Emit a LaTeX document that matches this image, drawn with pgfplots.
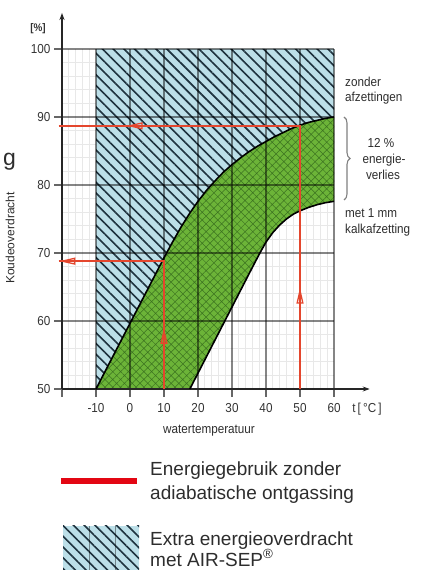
\documentclass[border=0pt]{standalone}
\usepackage{fontspec}
\setmainfont{Liberation Sans}
\newfontfamily\condfont[FakeStretch=0.9]{Liberation Sans}
\usepackage{pgfplots}
\pgfplotsset{compat=1.18}
\usetikzlibrary{patterns.meta,arrows.meta,decorations.pathreplacing}
\definecolor{skyfill}{RGB}{188,223,232}
\definecolor{hatchnavy}{RGB}{30,50,62}
\definecolor{grfill}{RGB}{108,180,56}
\definecolor{grhatch}{RGB}{60,115,32}
\definecolor{redline}{RGB}{228,70,45}
\definecolor{legred}{RGB}{227,6,19}
\definecolor{txt}{RGB}{45,45,45}
\pgfplotsset{common/.style={x=3.4bp, y=6.8bp, at={(62bp,181bp)}, anchor=south west,
  enlarge x limits=false, enlarge y limits=false}}
\newcommand\fs[1]{\fontsize{#1bp}{#1bp}\selectfont}
\begin{document}
\begin{tikzpicture}
\useasboundingbox (0,0) rectangle (424bp,570bp);
\clip (0,0) rectangle (424bp,570bp);
% minor grid (under the fills)
\begin{axis}[common, xmin=-20, xmax=60, ymin=50, ymax=100,
  axis line style={draw=none}, tick style={draw=none},
  xtick={-20,-10,...,60}, ytick={50,60,...,100}, minor x tick num=4, minor y tick num=4,
  xticklabels={}, yticklabels={}, minor grid style={black!9, line width=0.8bp},
  xminorgrids=true, yminorgrids=true]
\end{axis}
% fills
\begin{axis}[common, xmin=-20, xmax=70.5, ymin=50, ymax=105.3, hide axis, clip=false]
\addplot[draw=none, fill=skyfill, postaction={pattern={Lines[angle=-45,distance=7.6bp,line width=1.6bp]}, pattern color=hatchnavy}]
 coordinates {(-10,50) (0,59.65) (10,69.3) (12.5,71.6) (15,73.8) (17.5,75.8) (20,77.6) (22.5,79.2) (25,80.6) (27.5,81.9) (30,83.0) (32.5,84.0) (35,84.9) (37.5,85.7) (40,86.4) (42.5,87.1) (45,87.7) (47.5,88.3) (50,88.8) (52.5,89.2) (55,89.5) (57.5,89.8) (60,90.0) (60,100) (-10,100)} -- cycle;
\addplot[draw=none, fill=grfill, postaction={pattern={Hatch[angle=45,distance=5.5bp,line width=0.5bp]}, pattern color=grhatch}]
 coordinates {(-10,50) (0,59.65) (10,69.3) (12.5,71.6) (15,73.8) (17.5,75.8) (20,77.6) (22.5,79.2) (25,80.6) (27.5,81.9) (30,83.0) (32.5,84.0) (35,84.9) (37.5,85.7) (40,86.4) (42.5,87.1) (45,87.7) (47.5,88.3) (50,88.8) (52.5,89.2) (55,89.5) (57.5,89.8) (60,90.0)
 (60,77.6) (57.5,77.4) (55,77.1) (52.5,76.7) (50,76.2) (48,75.7) (46,75.0) (44,74.1) (42,73.0) (40,71.6) (38.2,70.0) (36,67.9) (17.6,50)} -- cycle;
\end{axis}
% major grid (over the fills)
\begin{axis}[common, xmin=-20, xmax=60, ymin=50, ymax=100,
  axis line style={draw=none}, tick style={draw=none},
  xtick={-20,-10,...,60}, ytick={50,60,...,100},
  xticklabels={}, yticklabels={}, xmajorgrids=true, ymajorgrids=true,
  major grid style={black, opacity=0.48, line width=1.2bp}]
\end{axis}
% main
\begin{axis}[common, xmin=-20, xmax=70.5, ymin=50, ymax=105.3, axis lines=left, clip=false,
  axis line style={line width=1.6bp, black!85},
  every outer x axis line/.append style={-{Stealth[length=7bp,width=5bp]}},
  every outer y axis line/.append style={-{Stealth[length=7bp,width=5bp]}},
  xtick={-20,-10,...,60}, xticklabels={{},-10,0,10,20,30,40,50,60},
  ytick={50,60,...,100}, yticklabels={50,60,70,80,90,100},
  tick align=outside, major tick length=8bp, tick style={black!60, line width=1.2bp},
  ticklabel style={font=\condfont\fs{13}, text=black!80},
  xticklabel style={yshift=-3bp}]
\addplot[black, line width=1.6bp] coordinates {(-10,50) (0,59.65) (10,69.3) (12.5,71.6) (15,73.8) (17.5,75.8) (20,77.6) (22.5,79.2) (25,80.6) (27.5,81.9) (30,83.0) (32.5,84.0) (35,84.9) (37.5,85.7) (40,86.4) (42.5,87.1) (45,87.7) (47.5,88.3) (50,88.8) (52.5,89.2) (55,89.5) (57.5,89.8) (60,90.0)};
\addplot[black, line width=1.6bp] coordinates {(17.6,50) (36,67.9) (38.2,70.0) (40,71.6) (42,73.0) (44,74.1) (46,75.0) (48,75.7) (50,76.2) (52.5,76.7) (55,77.1) (57.5,77.4) (60,77.6)};
% red lines
\addplot[redline, line width=1.8bp] coordinates {(-21,88.7) (50,88.7) (50,50)};
\addplot[redline, line width=1.8bp] coordinates {(-21,68.8) (10,68.8) (10,50)};
\addplot[redline, line width=1.3bp, -{Triangle[open,length=16bp,width=7bp]}] coordinates {(10,52) (10,59)};
\addplot[redline, line width=1.3bp, -{Triangle[open,length=16bp,width=7bp]}] coordinates {(50,55) (50,64.9)};
\addplot[redline, line width=1.3bp, -{Triangle[open,length=16bp,width=7bp]}] coordinates {(0,68.8) (-20.8,68.8)};
\addplot[redline, line width=1.3bp, -{Triangle[open,length=16bp,width=7bp]}] coordinates {(20,88.7) (-1,88.7)};
\end{axis}
% texts
\node[font=\condfont\fs{11}\bfseries, text=black!80] at (38bp,541bp) {[\%]};
\node[anchor=base east, inner sep=0pt, font=\fs{23}, text=txt] at (16bp,404bp) {g};
\node[rotate=90, font=\fs{12}, text=txt] at (10bp,332bp) {Koudeoverdracht};
\node[anchor=base, inner sep=0pt, font=\condfont\fs{13}, text=txt] at (209bp,136bp) {watertemperatuur};
\node[anchor=base, inner sep=0pt, font=\condfont\fs{13}, text=black!80] at (367bp,157bp) {t\,[\,°C\,]};
\begin{scope}[every node/.style={inner sep=0pt, font=\condfont\fs{13}, text=txt}]
\node[anchor=base west] at (345bp,483bp) {zonder};
\node[anchor=base west] at (345bp,468bp) {afzettingen};
\node[anchor=base] at (381bp,422bp) {12 \%};
\node[anchor=base] at (384bp,406bp) {energie-};
\node[anchor=base] at (383bp,390bp) {verlies};
\node[anchor=base west] at (345bp,352bp) {met 1 mm};
\node[anchor=base west] at (345bp,336bp) {kalkafzetting};
\end{scope}
\draw[gray, line width=1.1bp, decorate, decoration={brace, amplitude=6bp}] (344bp,453bp) -- (344bp,370bp);
% legend
\draw[legred, line width=5.5bp] (61bp,89bp) -- (137bp,89bp);
\begin{scope}[every node/.style={inner sep=0pt, anchor=base west, font=\fs{19}, text=txt}]
\node at (150bp,94bp) {Energiegebruik zonder};
\node at (150bp,70bp) {adiabatische ontgassing};
\node at (150bp,25bp) {Extra energieoverdracht};
\node at (150bp,4bp) {met AIR-SEP\textsuperscript{®}};
\end{scope}
\fill[skyfill] (63bp,-5bp) rectangle (139bp,44bp);
\fill[pattern={Lines[angle=-45,distance=7.6bp,line width=1.6bp]}, pattern color=hatchnavy] (63bp,-5bp) rectangle (139bp,44bp);
\draw[black, opacity=0.4, line width=1bp] (89bp,-5bp) -- (89bp,44bp) (115bp,-5bp) -- (115bp,44bp);
\end{tikzpicture}
\end{document}
